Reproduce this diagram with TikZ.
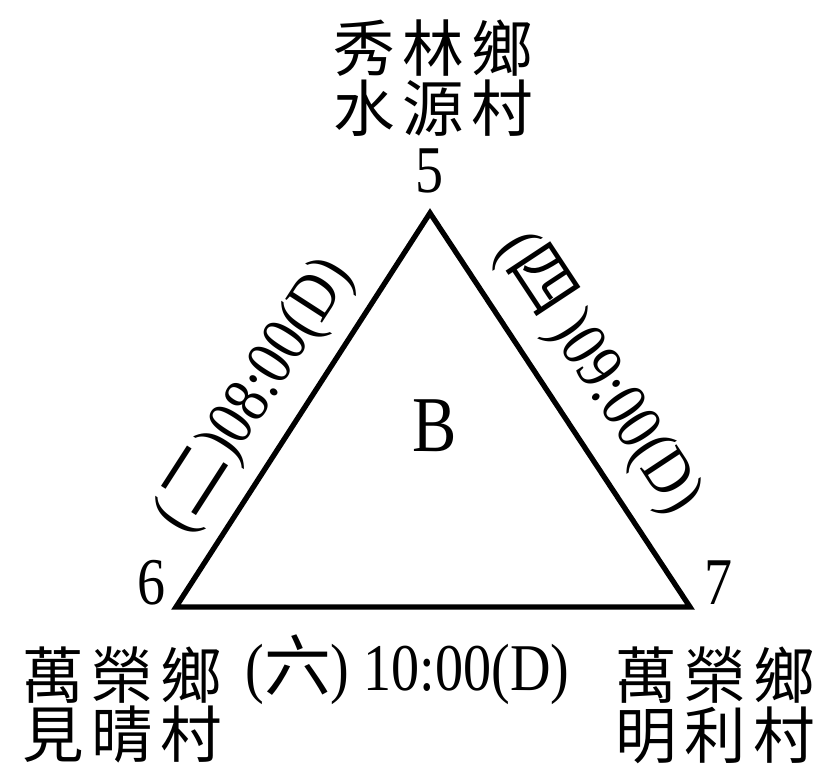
\documentclass[tikz,border=0pt]{standalone}
\usepackage{fontspec}
\setmainfont[FakeStretch=0.84]{Liberation Serif}
\newfontfamily\cjk[LetterSpace=12]{Noto Sans CJK TC}
\tikzset{
  vertex/.style={shape=coordinate},
  num/.style={font=\fontsize{38}{40}\selectfont,inner sep=0pt},
  place/.style={font=\cjk\fontsize{35}{36}\selectfont,align=left,inner sep=0pt},
  timelabel/.style={font=\fontsize{38}{40}\selectfont,inner sep=0pt},
}
\begin{document}
\begin{tikzpicture}
\useasboundingbox (0,0) rectangle (16.48,15.52);
\node (p5) at (8.6,11.26) [vertex,label={[num,label distance=11pt]90:5}] {};
\node (p6) at (3.52,3.38) [vertex,label={[num,label distance=6pt]172:6}] {};
\node (p7) at (13.8,3.38) [vertex,label={[num,label distance=8pt]10:7}] {};
\draw[line width=3pt,line join=miter] (p5) -- node[timelabel,sloped,above=10pt,pos=0.48] {({\cjk 四}\,)09:00(D)} (p7)
  -- node[timelabel,below=14pt,pos=0.55] {({\cjk 六}) 10:00(D)} (p6)
  -- node[timelabel,sloped,above=8pt,pos=0.47] {({\cjk 二})08:00(D)} cycle;
\node (b) at (8.7,7.0) [font=\fontsize{45}{48}\selectfont] {B};
\node (top) at (8.66,13.96) [place,align=center] {秀林鄉\\[-2pt]水源村};
\node (left) at (0.44,1.42) [place,anchor=west] {萬榮鄉\\[-2pt]見晴村};
\node (right) at (12.3,1.42) [place,anchor=west] {萬榮鄉\\[-2pt]明利村};
\end{tikzpicture}
\end{document}
